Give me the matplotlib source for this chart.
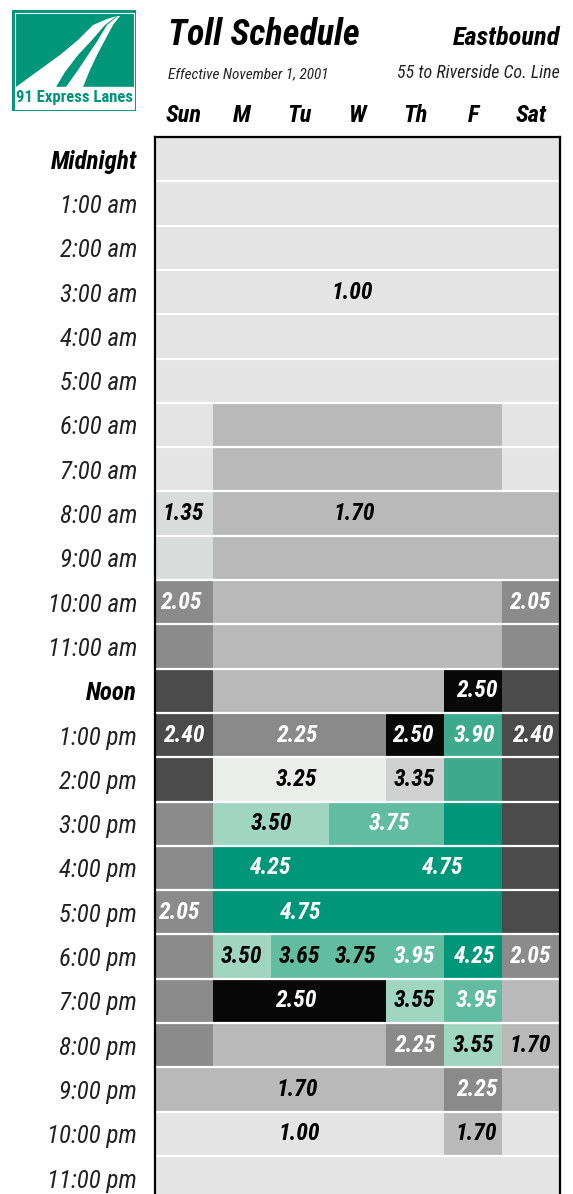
import numpy as np
import matplotlib.pyplot as plt
from matplotlib import font_manager
from matplotlib.colors import ListedColormap
from matplotlib.patches import Rectangle, Polygon

# narrow font if there is one, else DejaVu asked for condensed
installed = {f.name for f in font_manager.fontManager.ttflist}
narrow = [n for n in ['Liberation Sans Narrow', 'Roboto Condensed', 'Noto Sans Condensed',
                      'Open Sans Condensed', 'DejaVu Sans Condensed',
                      'Noto Sans SemiCondensed'] if n in installed]
plt.rcParams['font.family'] = narrow[:1] + ['DejaVu Sans']
plt.rcParams['font.stretch'] = 'condensed'

days = ['Sun', 'M', 'Tu', 'W', 'Th', 'F', 'Sat']
hours = ['Midnight', '1:00 am', '2:00 am', '3:00 am', '4:00 am', '5:00 am',
         '6:00 am', '7:00 am', '8:00 am', '9:00 am', '10:00 am', '11:00 am',
         'Noon', '1:00 pm', '2:00 pm', '3:00 pm', '4:00 pm', '5:00 pm',
         '6:00 pm', '7:00 pm', '8:00 pm', '9:00 pm', '10:00 pm', '11:00 pm']

# toll per hour, one list per day
sun = [1.00, 1.00, 1.00, 1.00, 1.00, 1.00, 1.00, 1.00, 1.35, 1.35, 2.05, 2.05,
       2.40, 2.40, 2.40, 2.05, 2.05, 2.05, 2.05, 2.05, 2.05, 1.70, 1.00, 1.00]
mon = [1.00, 1.00, 1.00, 1.00, 1.00, 1.00, 1.70, 1.70, 1.70, 1.70, 1.70, 1.70,
       1.70, 2.25, 3.25, 3.50, 4.25, 4.75, 3.50, 2.50, 1.70, 1.70, 1.00, 1.00]
tue = [1.00, 1.00, 1.00, 1.00, 1.00, 1.00, 1.70, 1.70, 1.70, 1.70, 1.70, 1.70,
       1.70, 2.25, 3.25, 3.50, 4.25, 4.75, 3.65, 2.50, 1.70, 1.70, 1.00, 1.00]
wed = [1.00, 1.00, 1.00, 1.00, 1.00, 1.00, 1.70, 1.70, 1.70, 1.70, 1.70, 1.70,
       1.70, 2.25, 3.25, 3.75, 4.75, 4.75, 3.75, 2.50, 1.70, 1.70, 1.00, 1.00]
thu = [1.00, 1.00, 1.00, 1.00, 1.00, 1.00, 1.70, 1.70, 1.70, 1.70, 1.70, 1.70,
       1.70, 2.50, 3.35, 3.75, 4.75, 4.75, 3.95, 3.55, 2.25, 1.70, 1.00, 1.00]
fri = [1.00, 1.00, 1.00, 1.00, 1.00, 1.00, 1.70, 1.70, 1.70, 1.70, 1.70, 1.70,
       2.50, 3.90, 3.90, 4.25, 4.75, 4.75, 4.25, 3.95, 3.55, 2.25, 1.70, 1.00]
sat = [1.00, 1.00, 1.00, 1.00, 1.00, 1.00, 1.00, 1.00, 1.70, 1.70, 2.05, 2.05,
       2.40, 2.40, 2.40, 2.40, 2.40, 2.40, 2.05, 1.70, 1.70, 1.70, 1.00, 1.00]

toll_levels = [1.00, 1.35, 1.70, 2.05, 2.25, 2.40, 2.50, 3.25, 3.35, 3.50,
               3.55, 3.65, 3.75, 3.90, 3.95, 4.25, 4.75]
toll_colors = ['#e4e4e4', '#d8dddc', '#b9b9b9', '#8b8b8b', '#8a8a8a', '#4b4b4b',
               '#080808', '#e9eeeb', '#cfd0cf', '#a0d5c1', '#a0d5c1', '#62bca0',
               '#62bca0', '#3ea98b', '#62bca0', '#00967a', '#00967a']

# (hour, column position, text, text colour)
cell_labels = [
    (3, 3.40, '1.00', 'black'),
    (8, 0.48, '1.35', 'black'), (8, 3.45, '1.70', 'black'),
    (10, 0.45, '2.05', 'white'), (10, 6.48, '2.05', 'white'),
    (12, 5.56, '2.50', 'white'),
    (13, 0.50, '2.40', 'white'), (13, 2.45, '2.25', 'white'),
    (13, 4.46, '2.50', 'white'), (13, 5.53, '3.90', 'white'),
    (13, 6.53, '2.40', 'white'),
    (14, 2.45, '3.25', 'black'), (14, 4.49, '3.35', 'black'),
    (15, 2.02, '3.50', 'black'), (15, 4.06, '3.75', 'white'),
    (16, 2.00, '4.25', 'white'), (16, 4.97, '4.75', 'white'),
    (17, 0.41, '2.05', 'white'), (17, 2.52, '4.75', 'white'),
    (18, 1.49, '3.50', 'black'), (18, 2.50, '3.65', 'black'),
    (18, 3.47, '3.75', 'black'), (18, 4.49, '3.95', 'white'),
    (18, 5.53, '4.25', 'white'), (18, 6.48, '2.05', 'white'),
    (19, 2.44, '2.50', 'white'), (19, 4.49, '3.55', 'black'),
    (19, 5.56, '3.95', 'white'),
    (20, 4.49, '2.25', 'white'), (20, 5.51, '3.55', 'black'),
    (20, 6.49, '1.70', 'black'),
    (21, 2.45, '1.70', 'black'), (21, 5.56, '2.25', 'white'),
    (22, 2.50, '1.00', 'black'), (22, 5.56, '1.70', 'black'),
]

W, H = 573, 1194
green = '#00967a'

fig = plt.figure(figsize=(W / 100, H / 100), dpi=100)

# --- schedule grid ---
grid = np.array([sun, mon, tue, wed, thu, fri, sat]).T
idx = np.searchsorted(toll_levels, np.round(grid, 2))
cmap = ListedColormap(toll_colors)

ax = fig.add_axes([155 / W, 0, 405 / W, (H - 137) / H])
ax.pcolormesh(np.arange(8), np.arange(25), idx, cmap=cmap,
              vmin=-0.5, vmax=len(toll_levels) - 0.5)
ax.hlines(np.arange(1, 24), 0, 7, color='white', lw=1.6)
ax.set_xlim(0, 7)
ax.set_ylim(23.86, 0)

for h, x, txt, col in cell_labels:
    ax.text(x, h + 0.5, txt, ha='center', va='center', color=col,
            fontsize=17, fontweight='bold', fontstyle='italic')

ax.xaxis.tick_top()
ax.set_xticks(np.arange(7) + 0.5, days)
ax.set_yticks(np.arange(24) + 0.5, hours)
ax.tick_params(length=0)
ax.tick_params(axis='x', pad=7)
ax.tick_params(axis='y', pad=13)
for lab in ax.get_xticklabels():
    lab.set_fontsize(17.5)
    lab.set_fontweight('bold')
    lab.set_fontstyle('italic')
for lab in ax.get_yticklabels():
    lab.set_fontsize(18)
    lab.set_fontstyle('italic')
    lab.set_color('#222222')
    if lab.get_text() in ('Midnight', 'Noon'):
        lab.set_fontweight('bold')
        lab.set_color('black')
for side in ('left', 'top', 'right'):
    ax.spines[side].set_linewidth(1.6)
ax.spines['bottom'].set_visible(False)

# --- header ---
fig.text(168 / W, 1 - 45 / H, 'Toll Schedule', fontsize=26,
         fontweight='bold', fontstyle='italic', va='baseline')
fig.text(560 / W, 1 - 45 / H, 'Eastbound', fontsize=19, ha='right',
         fontweight='bold', fontstyle='italic', va='baseline')
fig.text(168 / W, 1 - 78 / H, 'Effective November 1, 2001', fontsize=11,
         fontstyle='italic', va='baseline', color='#222222')
fig.text(560 / W, 1 - 78 / H, '55 to Riverside Co. Line', fontsize=13,
         fontstyle='italic', va='baseline', ha='right', color='#222222')

# --- logo ---
lg = fig.add_axes([12 / W, 1 - 111 / H, 124 / W, 101 / H])
lg.set_xlim(0, 124)
lg.set_ylim(101, 0)
lg.axis('off')
lg.add_patch(Rectangle((0, 0), 124, 101, color=green))
lg.add_patch(Rectangle((2.5, 2.5), 119, 96, fill=False, ec='white', lw=0.8))
lg.add_patch(Rectangle((3.5, 77), 117, 20.5, color='white'))
left_road = [(4, 77), (30, 58), (48, 45), (66, 30), (81, 15), (95, 9), (105, 6),
             (93, 15), (80, 30), (66, 45), (53, 62), (44, 77)]
right_road = [(54, 77), (66, 60), (76, 45), (86, 30), (95, 15), (106, 6),
              (108, 6), (101, 15), (93, 30), (85, 45), (78, 60), (71, 77)]
lg.add_patch(Polygon(left_road, closed=True, color='white', lw=0))
lg.add_patch(Polygon(right_road, closed=True, color='white', lw=0))
lg.text(62, 87.5, '91 Express Lanes', ha='center', va='center', color=green,
        fontsize=12, fontweight='bold')

fig.savefig('out.png', dpi=100)
